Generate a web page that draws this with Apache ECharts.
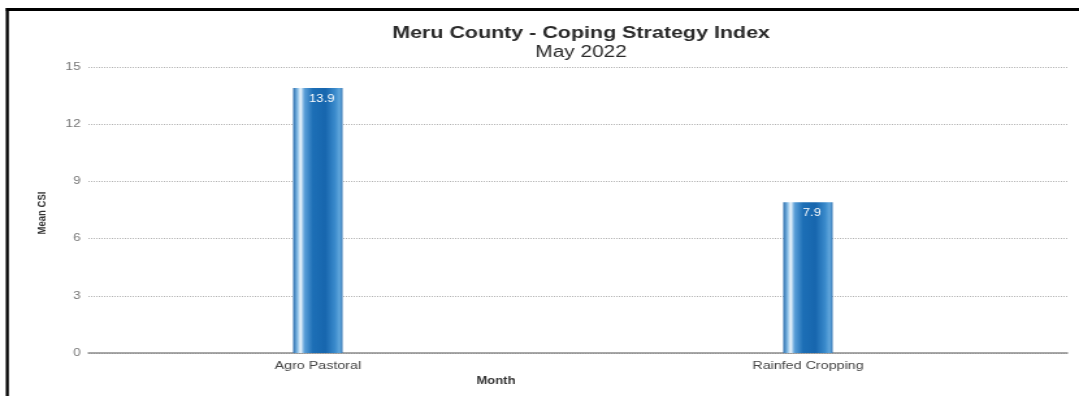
<!DOCTYPE html>
<html>
<head>
<meta charset="utf-8">
<script src="https://cdn.jsdelivr.net/npm/echarts@6/dist/echarts.min.js"></script>
<style>
  html, body { margin: 0; padding: 0; background: #fff; overflow: hidden; }
  /* the chart is laid out on a narrower canvas and widened to the page */
  #chart { width: 830px; height: 396px; transform: scaleX(1.3); transform-origin: 0 0; }
</style>
</head>
<body>
<div id="chart"></div>
<script>
// Livelihood zones and their mean Coping Strategy Index
const categories = ['Agro Pastoral', 'Rainfed Cropping'];
const meanCSI = [13.9, 7.9];
const yTicks = { min: 0, max: 15, interval: 3 };

const titleText = 'Meru County - Coping Strategy Index';
const subtitleText = 'May 2022';
const xTitle = 'Month';
const yTitle = 'Mean CSI';

const barFill = new echarts.graphic.LinearGradient(0, 0, 1, 0, [
  { offset: 0.00, color: '#2a6cab' },
  { offset: 0.08, color: '#7db6e2' },
  { offset: 0.15, color: '#eef7fd' },
  { offset: 0.23, color: '#5a9fd8' },
  { offset: 0.40, color: '#1d6fb6' },
  { offset: 0.65, color: '#1766ae' },
  { offset: 0.85, color: '#3b8bcc' },
  { offset: 0.94, color: '#62a7dc' },
  { offset: 1.00, color: '#2f74b4' }
]);

const chart = echarts.init(document.getElementById('chart'), null, { renderer: 'canvas' });

const font = 'Liberation Sans, Arial, Helvetica, sans-serif';

chart.setOption({
  backgroundColor: '#ffffff',
  animation: false,
  textStyle: { fontFamily: font },
  title: {
    text: titleText,
    subtext: subtitleText,
    left: 442,
    textAlign: 'center',
    top: 20,
    itemGap: 3,
    textStyle: { fontSize: 16.5, fontWeight: 'bold', color: '#2b2b2b', fontFamily: font },
    subtextStyle: { fontSize: 16, color: '#2b2b2b', fontFamily: font }
  },
  grid: [
    { left: 68, right: 9, top: 67, bottom: 43 },
    { left: 56, right: 20, top: 67, bottom: 43 }
  ],
  xAxis: [
    {
      type: 'category', gridIndex: 0, data: categories,
      axisLine: { show: true, lineStyle: { color: '#8c8c8c', width: 1.5 } },
      axisTick: { show: false }, axisLabel: { show: false }
    },
    {
      type: 'category', gridIndex: 1, data: categories,
      axisLine: { show: false }, axisTick: { show: false },
      axisLabel: { color: '#444', fontSize: 11, margin: 7, fontFamily: font }
    }
  ],
  yAxis: [
    {
      type: 'value', gridIndex: 0,
      min: yTicks.min, max: yTicks.max, interval: yTicks.interval,
      axisLine: { show: false }, axisTick: { show: false },
      axisLabel: { color: '#777', fontSize: 10.5, margin: 6, fontFamily: font },
      splitLine: { show: true, lineStyle: { color: '#b4b4b4', type: 'dotted', width: 1 } }
    },
    {
      type: 'value', gridIndex: 1,
      min: yTicks.min, max: yTicks.max, interval: yTicks.interval,
      show: false, splitLine: { show: false }
    }
  ],
  series: [{
    type: 'bar',
    xAxisIndex: 1, yAxisIndex: 1,
    data: meanCSI,
    barWidth: 38,
    itemStyle: { color: barFill },
    label: {
      show: true, position: 'insideTop', distance: 6, offset: [3, 0],
      color: '#ffffff', fontSize: 10, fontFamily: font
    }
  }],
  graphic: [
    {
      type: 'text', x: 381.5, y: 381,
      style: { text: xTitle, font: 'bold 10px ' + font, fill: '#333', align: 'center', verticalAlign: 'middle' }
    },
    {
      type: 'text', x: 32, y: 213, rotation: Math.PI / 2,
      style: { text: yTitle, font: 'bold 9.5px ' + font, fill: '#333', align: 'center', verticalAlign: 'middle' }
    },
    {
      type: 'line', silent: true,
      shape: { x1: 5.6, y1: 8, x2: 5.6, y2: 400 },
      style: { stroke: '#000', lineWidth: 2.3 }
    },
    {
      type: 'line', silent: true,
      shape: { x1: 4.5, y1: 9.5, x2: 840, y2: 9.5 },
      style: { stroke: '#000', lineWidth: 3 }
    }
  ]
});
</script>
</body>
</html>
